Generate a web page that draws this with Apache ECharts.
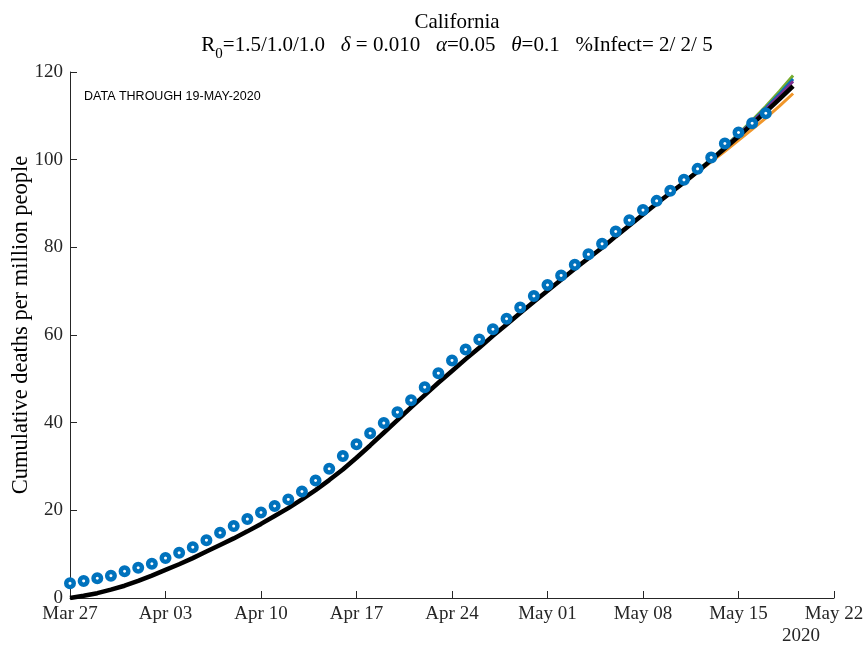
<!DOCTYPE html>
<html>
<head>
<meta charset="utf-8">
<script src="https://cdn.jsdelivr.net/npm/echarts@6/dist/echarts.min.js"></script>
<style>html,body{margin:0;padding:0;background:#fff}#c{width:865px;height:648px}</style>
</head>
<body>
<div id="c"></div>
<script>
// Days since Mar 27, 2020
const xTickLabels = ['Mar 27','Apr 03','Apr 10','Apr 17','Apr 24','May 01','May 08','May 15','May 22'];
const yTicks = [0, 20, 40, 60, 80, 100, 120];

// Observed cumulative deaths per million (daily, from Mar 27)
const observed = [3.35, 3.9, 4.5, 5.1, 6.1, 6.9, 7.8, 9.1, 10.3, 11.6, 13.2, 14.9, 16.4, 18.0, 19.5,
  21.0, 22.5, 24.3, 26.8, 29.5, 32.4, 35.1, 37.6, 39.9, 42.4, 45.1, 48.1, 51.3, 54.2, 56.7,
  59.0, 61.3, 63.7, 66.3, 68.9, 71.4, 73.6, 76.0, 78.4, 80.8, 83.6, 86.2, 88.5, 90.6, 92.9,
  95.4, 97.9, 100.5, 103.7, 106.2, 108.3, 110.6];

// Model (black) from Mar 27 through May 19
const modelBlack = [0, 0.5, 1.1, 1.9, 2.8, 3.9, 5.1, 6.4, 7.7, 9.1, 10.6, 12.1, 13.6, 15.2, 16.9,
  18.7, 20.5, 22.5, 24.6, 26.9, 29.3, 32.0, 34.8, 37.7, 40.6, 43.5, 46.3, 49.1, 51.8, 54.5,
  57.1, 59.8, 62.4, 65.0, 67.6, 70.1, 72.6, 75.1, 77.5, 79.9, 82.5, 85.0, 87.5, 90.0, 92.4,
  94.8, 97.3, 99.9, 102.6, 105.3, 108.1, 110.9, 113.8, 116.8];

// Alternative model runs, from day 44 (May 10) through day 53 (May 19)
const altStartDay = 44;
const modelOrange = [92.4, 94.7, 97.1, 99.5, 101.9, 104.4, 106.9, 109.5, 112.2, 115.1];
const modelGreen  = [92.4, 94.9, 97.5, 100.2, 103.0, 105.9, 109.0, 112.2, 115.6, 119.2];
const modelBlue   = [92.4, 94.9, 97.4, 100.1, 102.9, 105.7, 108.7, 111.8, 115.0, 118.4];
const modelPurple = [92.4, 94.85, 97.4, 100.0, 102.8, 105.6, 108.5, 111.5, 114.6, 117.9];

const toPairs = (arr, start) => arr.map((v, i) => [start + i, v]);

const serif = 'Liberation Serif';
const axisColor = '#262626';

const chart = echarts.init(document.getElementById('c'), null, {renderer: 'canvas'});
const altLine = (name, data, color) => ({
  name, type: 'line', data: toPairs(data, altStartDay), showSymbol: false, symbol: 'none',
  lineStyle: {color, width: 3}, z: 2, silent: true
});

chart.setOption({
  animation: false,
  backgroundColor: '#fff',
  title: [
    {text: 'California', left: 452, textAlign: 'center', top: 7,
     textStyle: {fontFamily: serif, fontSize: 21, fontWeight: 'normal', color: '#000'}},
    {text: '{t|R}{s|0}{t|=1.5/1.0/1.0   }{i|δ}{t| = 0.010   }{i|α}{t|=0.05   }{i|θ}{t|=0.1   %Infect= 2/ 2/ 5}',
     left: 452, textAlign: 'center', top: 30,
     textStyle: {
       fontFamily: serif, fontSize: 21, fontWeight: 'normal', color: '#000',
       rich: {
         t: {fontFamily: serif, fontSize: 21, color: '#000', lineHeight: 24, verticalAlign: 'top'},
         i: {fontFamily: serif, fontSize: 21, fontStyle: 'italic', color: '#000', lineHeight: 24, verticalAlign: 'top'},
         s: {fontFamily: serif, fontSize: 15, color: '#000', lineHeight: 15, padding: [12, 0, 0, 0], verticalAlign: 'top'}
       }
     }}
  ],
  grid: {left: 70, right: 31, top: 72, bottom: 50, containLabel: false, outerBoundsMode: 'none'},
  xAxis: {
    type: 'value', min: 0, max: 56, interval: 7,
    axisLine: {show: true, lineStyle: {color: axisColor, width: 1}},
    axisTick: {show: true, inside: true, length: 7, lineStyle: {color: axisColor}},
    splitLine: {show: false},
    axisLabel: {
      formatter: v => xTickLabels[Math.round(v / 7)],
      fontFamily: serif, fontSize: 19, color: axisColor, margin: 7
    }
  },
  yAxis: {
    type: 'value', min: 0, max: 120, interval: 20,
    axisLine: {show: true, lineStyle: {color: axisColor, width: 1}},
    axisTick: {show: true, inside: true, length: 7, lineStyle: {color: axisColor}},
    splitLine: {show: false},
    axisLabel: {
      formatter: v => yTicks.includes(v) ? String(v) : '',
      fontFamily: serif, fontSize: 19, color: axisColor, margin: 7
    }
  },
  graphic: [
    {type: 'text', x: 21, y: 325, rotation: Math.PI / 2,
     style: {text: 'Cumulative deaths per million people', font: '22.5px "Liberation Serif"', fill: '#000',
             textAlign: 'center', textVerticalAlign: 'middle'}},
    {type: 'text', left: 84, top: 90,
     style: {text: 'DATA THROUGH 19-MAY-2020', font: '12.5px "Liberation Sans"', fill: '#000'}},
    {type: 'text', x: 801, y: 627,
     style: {text: '2020', font: '19px "Liberation Serif"', fill: axisColor, textAlign: 'center'}}
  ],
  series: [
    altLine('orange', modelOrange, '#F0962A'),
    altLine('green', modelGreen, '#77AC30'),
    altLine('blue', modelBlue, '#0072BD'),
    altLine('purple', modelPurple, '#7E2F8E'),
    {name: 'model', type: 'line', data: toPairs(modelBlack, 0), showSymbol: false, symbol: 'none',
     lineStyle: {color: '#000', width: 4.5}, z: 3, silent: true},
    {name: 'observed', type: 'scatter', data: toPairs(observed, 0),
     symbol: 'circle', symbolSize: 7.5,
     itemStyle: {color: '#fff', borderColor: '#0072BD', borderWidth: 4.5, opacity: 1},
     z: 5, silent: true}
  ]
});
</script>
</body>
</html>
